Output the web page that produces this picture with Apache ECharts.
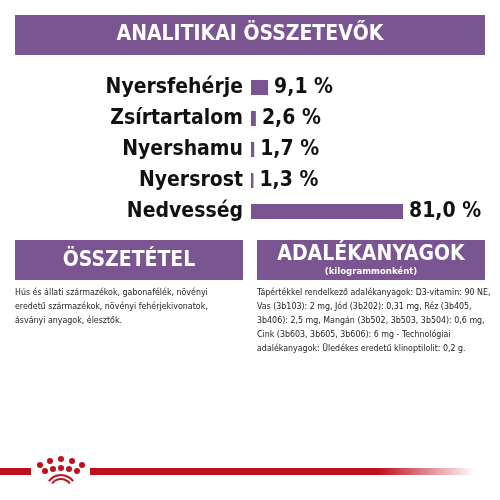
<!DOCTYPE html>
<html><head><meta charset="utf-8">
<script src="https://cdn.jsdelivr.net/npm/echarts@6/dist/echarts.min.js"></script>
<style>html,body{margin:0;padding:0;background:#fff}#c{width:500px;height:500px}</style>
</head><body><div id="c"></div>
<script>
const categories = ['Nyersfehérje','Zsírtartalom','Nyershamu','Nyersrost','Nedvesség'];
const values = [9.1, 2.6, 1.7, 1.3, 81.0];
const valueLabels = ['9,1 %','2,6 %','1,7 %','1,3 %','81,0 %'];
const PURPLE = '#7b5592', RED = '#c0101c';
const F = '"DejaVu Sans Condensed","Liberation Sans Narrow","DejaVu Sans",sans-serif';
const leftText = 'Hús és állati származékok, gabonafélék, növényi\neredetű származékok, növényi fehérjekivonatok,\násványi anyagok, élesztők.';
const rightText = 'Tápértékkel rendelkező adalékanyagok: D3-vitamin: 90 NE,\nVas (3b103): 2 mg, Jód (3b202): 0,31 mg, Réz (3b405,\n3b406): 2,5 mg, Mangán (3b502, 3b503, 3b504): 0,6 mg,\nCink (3b603, 3b605, 3b606): 6 mg - Technológiai\nadalékanyagok: Üledékes eredetű klinoptilolit: 0,2 g.';
const chart = echarts.init(document.getElementById('c'));
const dots = [[40,465],[50,461],[61,459],[72,461],[82,465],[45,471],[53,469],[61,468],[69,469],[77,471]];
const g = [
 {type:'rect',shape:{x:15,y:15,width:470,height:40},style:{fill:PURPLE}},
 {type:'text',x:250,y:35,style:{text:'ANALITIKAI ÖSSZETEVŐK',fill:'#fff',font:'bold 21px '+F,align:'center',verticalAlign:'middle'}},
 {type:'rect',shape:{x:15,y:240,width:228,height:40},style:{fill:PURPLE}},
 {type:'text',x:129,y:261,style:{text:'ÖSSZETÉTEL',fill:'#fff',font:'bold 21px '+F,align:'center',verticalAlign:'middle'}},
 {type:'rect',shape:{x:257,y:240,width:228,height:40},style:{fill:PURPLE}},
 {type:'text',x:371,y:255,style:{text:'ADALÉKANYAGOK',fill:'#fff',font:'bold 21px '+F,align:'center',verticalAlign:'middle'}},
 {type:'text',x:371,y:272,style:{text:'(kilogrammonként)',fill:'#fff',font:'bold 9.5px '+F,align:'center',verticalAlign:'middle'}},
 {type:'text',x:15,y:286,style:{text:leftText,fill:'#222',font:'8.8px '+F,lineHeight:14}},
 {type:'text',x:257,y:286,style:{text:rightText,fill:'#222',font:'8.8px '+F,lineHeight:14}},
 {type:'rect',shape:{x:0,y:468,width:31,height:7},style:{fill:RED}},
 {type:'rect',shape:{x:90,y:468,width:385,height:7},style:{fill:new echarts.graphic.LinearGradient(0,0,1,0,[{offset:0,color:RED},{offset:0.75,color:RED},{offset:1,color:'rgba(192,16,28,0)'}])}},
 {type:'arc',shape:{cx:61,cy:490,r:15,startAngle:Math.PI*1.2,endAngle:Math.PI*1.8},style:{stroke:RED,lineWidth:2,fill:null}},
 {type:'arc',shape:{cx:61,cy:490,r:11,startAngle:Math.PI*1.2,endAngle:Math.PI*1.8},style:{stroke:RED,lineWidth:2,fill:null}}
];
dots.forEach(d=>g.push({type:'circle',shape:{cx:d[0],cy:d[1],r:3},style:{fill:RED}}));
chart.setOption({
 animation:false,
 grid:{left:251,top:72,width:152,height:155,containLabel:false},
 xAxis:{type:'value',min:0,max:81,show:false},
 yAxis:{type:'category',data:categories,inverse:true,axisLine:{show:false},axisTick:{show:false},
   axisLabel:{color:'#111',fontFamily:F,fontWeight:'bold',fontSize:21,margin:8}},
 series:[{type:'bar',data:values,barWidth:15,itemStyle:{color:PURPLE},
   label:{show:true,position:'right',distance:6,color:'#111',fontFamily:F,fontWeight:'bold',fontSize:21,
     formatter:p=>valueLabels[p.dataIndex]}}],
 graphic:g
});
</script></body></html>
